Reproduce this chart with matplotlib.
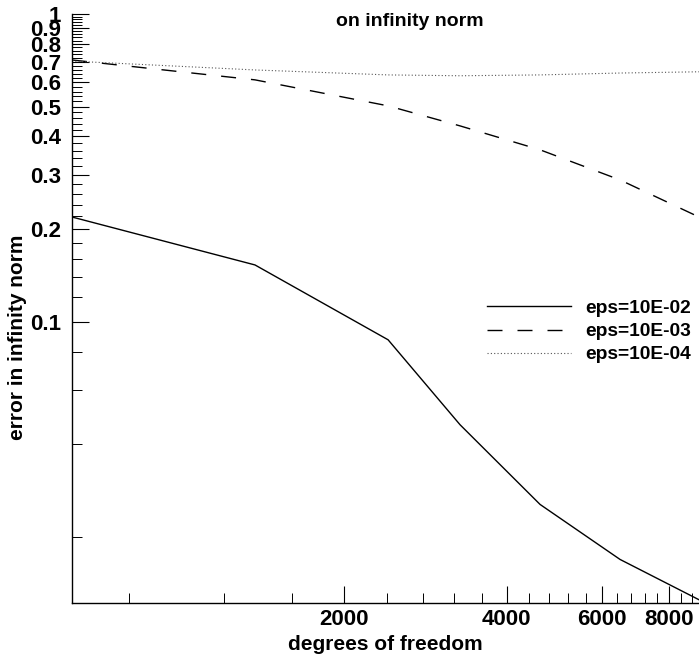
import matplotlib
matplotlib.use('Agg')
import matplotlib.pyplot as plt
from matplotlib.ticker import FixedLocator, FixedFormatter, NullFormatter

# ---- data ----
dof = [627, 1368, 2413, 3279, 4613, 6487, 9083]
err_e2 = [0.219, 0.153, 0.0874, 0.0463, 0.0255, 0.0169, 0.0125]
err_e3 = [0.709, 0.611, 0.503, 0.433, 0.362, 0.289, 0.219]
err_e4 = [0.703, 0.658, 0.634, 0.630, 0.634, 0.643, 0.649]
series_labels = ['eps=10E-02', 'eps=10E-03', 'eps=10E-04']

x_major = [2000, 4000, 6000, 8000]
x_major_labels = ['2000', '4000', '6000', '8000']
x_minor = [800, 1200, 1600, 2400, 2800, 3200, 3600, 4400, 4800, 5200, 5600,
           6400, 6800, 7200, 7600, 8400, 8800]
y_major = [0.1, 0.2, 0.3, 0.4, 0.5, 0.6, 0.7, 0.8, 0.9, 1.0]
y_major_labels = ['0.1', '0.2', '0.3', '0.4', '0.5', '0.6', '0.7', '0.8', '0.9', '1']
y_minor = [0.02, 0.04, 0.06, 0.08] + [0.12, 0.14, 0.16, 0.18, 0.22, 0.24, 0.26, 0.28,
           0.32, 0.34, 0.36, 0.38, 0.42, 0.44, 0.46, 0.48, 0.52, 0.54, 0.56, 0.58,
           0.62, 0.64, 0.66, 0.68, 0.72, 0.74, 0.76, 0.78, 0.82, 0.84, 0.86, 0.88,
           0.92, 0.94, 0.96, 0.98]

title_text = 'on infinity norm'
xlabel_text = 'degrees of freedom'
ylabel_text = 'error in infinity norm'

plt.rcParams['font.family'] = ['Liberation Sans', 'DejaVu Sans']
plt.rcParams['font.weight'] = 'bold'

fig = plt.figure(figsize=(6.99, 6.6), dpi=100)
ax = fig.add_axes([72/699, 57/660, 627/699, 589/660])

ax.plot(dof, err_e2, color='black', lw=1.0, ls='-', label=series_labels[0])
ax.plot(dof, err_e3, color='black', lw=1.0, ls=(0, (10.8, 10.8)), label=series_labels[1])
ax.plot(dof, err_e4, color='#555555', lw=0.8, ls=(0, (1, 2)), label=series_labels[2])

ax.set_xscale('log')
ax.set_yscale('log')
ax.set_xlim(627, 9083)
ax.set_ylim(0.0122, 1.0)

ax.xaxis.set_major_locator(FixedLocator(x_major))
ax.xaxis.set_major_formatter(FixedFormatter(x_major_labels))
ax.xaxis.set_minor_locator(FixedLocator(x_minor))
ax.xaxis.set_minor_formatter(NullFormatter())
ax.yaxis.set_major_locator(FixedLocator(y_major))
ax.yaxis.set_major_formatter(FixedFormatter(y_major_labels))
ax.yaxis.set_minor_locator(FixedLocator(y_minor))
ax.yaxis.set_minor_formatter(NullFormatter())

ax.tick_params(axis='both', which='major', direction='in', length=12, width=0.8,
               labelsize=16)
ax.tick_params(axis='y', which='major', pad=8)
ax.tick_params(axis='x', which='major', pad=4)
ax.tick_params(axis='both', which='minor', direction='in', length=7, width=0.7)
for lab in ax.get_xticklabels() + ax.get_yticklabels():
    lab.set_fontweight('bold')

ax.spines['top'].set_visible(False)
ax.spines['right'].set_visible(False)
ax.spines['left'].set_linewidth(1.0)
ax.spines['bottom'].set_linewidth(1.0)

ax.set_xlabel(xlabel_text, fontsize=15, fontweight='bold', va='center')
ax.xaxis.set_label_coords((385 - 72)/627, (603-645)/589)
ax.set_ylabel(ylabel_text, fontsize=15, fontweight='bold', va='center')
ax.yaxis.set_label_coords((18-72)/627, (603-337)/589)

fig.text(410/699, 1 - 21/660, title_text, fontsize=14, fontweight='bold',
         ha='center', va='center')

leg = ax.legend(loc='upper left', bbox_to_anchor=(407/627, (603-292)/589),
                frameon=False, fontsize=13.8, handlelength=4.4, handletextpad=0.75,
                labelspacing=0.3, borderaxespad=0)
for t in leg.get_texts():
    t.set_fontweight('bold')

fig.savefig('out.png', dpi=100)
